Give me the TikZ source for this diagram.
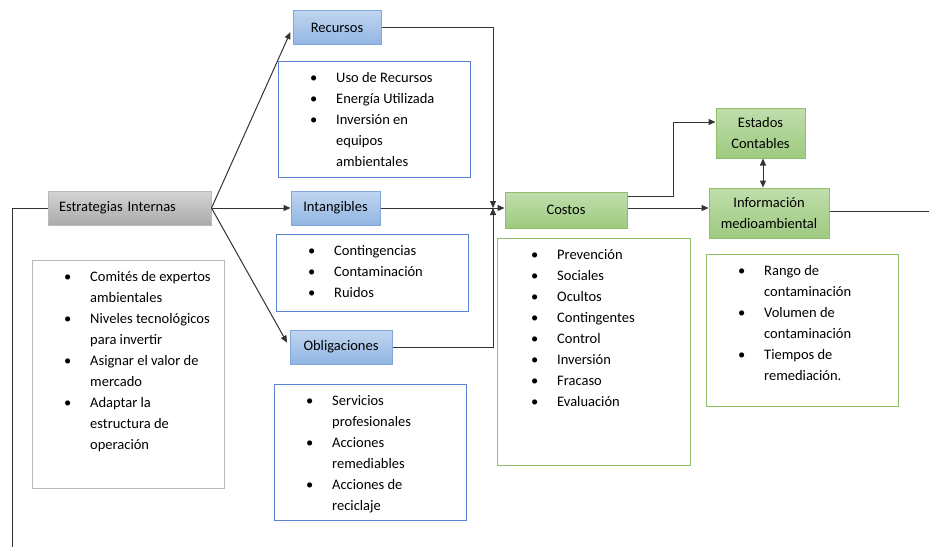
\documentclass[tikz,border=0pt]{standalone}
\usepackage{fontspec}
\setmainfont{Carlito}
\usetikzlibrary{arrows.meta}

\definecolor{azulArriba}{RGB}{192,213,239}
\definecolor{azulAbajo}{RGB}{146,182,227}
\definecolor{azulBorde}{RGB}{128,166,218}
\definecolor{azulLista}{RGB}{90,132,210}
\definecolor{verdeArriba}{RGB}{192,222,172}
\definecolor{verdeAbajo}{RGB}{158,202,128}
\definecolor{verdeBorde}{RGB}{140,193,104}
\definecolor{grisArriba}{RGB}{212,212,212}
\definecolor{grisAbajo}{RGB}{170,170,170}
\definecolor{grisBorde}{RGB}{185,185,185}

\newcommand{\lista}[1]{\begin{tabular}{@{}p{26pt}@{}l@{}}#1\end{tabular}}
\newcommand{\bul}{\textbullet}

\begin{document}
\begin{tikzpicture}[x=1pt,y=-1pt,font=\fontsize{14.5}{21}\selectfont,
    linea/.style={draw=black!80,line width=1pt},
    flecha/.style={linea,-{Triangle[length=7pt,width=6pt]}},
    doble/.style={linea,{Triangle[length=7pt,width=6pt]}-{Triangle[length=7pt,width=6pt]}},
    azul/.style={draw=azulBorde,line width=1pt,top color=azulArriba,bottom color=azulAbajo,minimum height=34pt,align=center},
    verde/.style={draw=verdeBorde,line width=1pt,top color=verdeArriba,bottom color=verdeAbajo,align=center},
    gris/.style={draw=grisBorde,line width=1pt,top color=grisArriba,bottom color=grisAbajo},
    caja/.style={draw=#1,line width=1pt,minimum width=192pt,anchor=north west,inner sep=0pt},
    texto/.style={anchor=north west,inner sep=0pt}]
    \useasboundingbox (0,0) rectangle (929,547);
    % Estrategias internas
    \node[gris,minimum width=163pt,minimum height=34pt,text width=141pt,inner xsep=11pt,align=left] (estr) at (129.5,208) {Estrategias Internas};
    \node[caja=grisBorde,minimum height=228pt] (estrLista) at (32,260) {};
    \node[texto] at ([shift={(32,6.5)}]estrLista.north west) {\lista{\bul & Comités de expertos\\ & ambientales\\ \bul & Niveles tecnológicos\\ & para invertir\\ \bul & Asignar el valor de\\ & mercado\\ \bul & Adaptar la\\ & estructura de\\ & operación}};
    % Recursos
    \node[azul,minimum width=88pt] (rec) at (337,27.5) {Recursos};
    \node[caja=azulLista,minimum height=116pt] (recLista) at (278,61) {};
    \node[texto] at ([shift={(32,6.5)}]recLista.north west) {\lista{\bul & Uso de Recursos\\ \bul & Energía Utilizada\\ \bul & Inversión en\\ & equipos\\ & ambientales}};
    % Intangibles
    \node[azul,minimum width=89pt] (int) at (335.5,208) {Intangibles};
    \node[caja=azulLista,minimum height=77pt] (intLista) at (276,234) {};
    \node[texto] at ([shift={(32,6.5)}]intLista.north west) {\lista{\bul & Contingencias\\ \bul & Contaminación\\ \bul & Ruidos}};
    % Obligaciones
    \node[azul,minimum width=102pt] (obl) at (341,347) {Obligaciones};
    \node[caja=azulLista,minimum height=136pt] (oblLista) at (274,384) {};
    \node[texto] at ([shift={(32,6.5)}]oblLista.north west) {\lista{\bul & Servicios\\ & profesionales\\ \bul & Acciones\\ & remediables\\ \bul & Acciones de\\ & reciclaje}};
    % Costos
    \node[verde,minimum width=122pt,minimum height=36pt] (cos) at (566,210) {Costos};
    \node[caja=verdeBorde,minimum width=193pt,minimum height=227pt] (cosLista) at (497,238) {};
    \node[texto] at ([shift={(34,6.5)}]cosLista.north west) {\lista{\bul & Prevención\\ \bul & Sociales\\ \bul & Ocultos\\ \bul & Contingentes\\ \bul & Control\\ \bul & Inversión\\ \bul & Fracaso\\ \bul & Evaluación}};
    % Estados e informacion
    \node[verde,minimum width=89pt,minimum height=50pt] (estc) at (760.5,133) {Estados\\Contables};
    \node[verde,minimum width=120pt,minimum height=50pt] (info) at (769,213) {Información\\medioambiental};
    \node[caja=verdeBorde,minimum height=152pt] (infoLista) at (706,254) {};
    \node[texto] at ([shift={(32,6.5)}]infoLista.north west) {\lista{\bul & Rango de\\ & contaminación\\ \bul & Volumen de\\ & contaminación\\ \bul & Tiempos de\\ & remediación.}};
    % Conectores
    \coordinate (izq) at (12,208);
    \coordinate (izqAbajo) at (12,547);
    \coordinate (jn) at (493,208);
    \coordinate (finDer) at (929,211);
    \draw[linea] (estr.west) -- (izq) -- (izqAbajo);
    \draw[flecha,shorten >=5pt] (estr.east) -- (rec.west);
    \draw[flecha] (estr.east) -- (int.west);
    \draw[flecha,shorten >=5pt] (estr.east) -- (obl.west);
    \draw[flecha] (rec.east) -| (jn);
    \draw[flecha] (obl.east) -| (jn);
    \draw[flecha] (int.east) -- (int.east -| cos.west);
    \draw[flecha] ([yshift=14pt]cos.east) -- ++(46,0) |- ([yshift=11pt]estc.west);
    \draw[flecha] ([yshift=2pt]cos.east) -- ([yshift=2pt]cos.east -| info.west);
    \draw[doble] ([xshift=2.5pt]estc.south) -- ([xshift=2.5pt]estc.south |- info.north);
    \draw[linea] (info.east |- finDer) -- (finDer);
\end{tikzpicture}
\end{document}
